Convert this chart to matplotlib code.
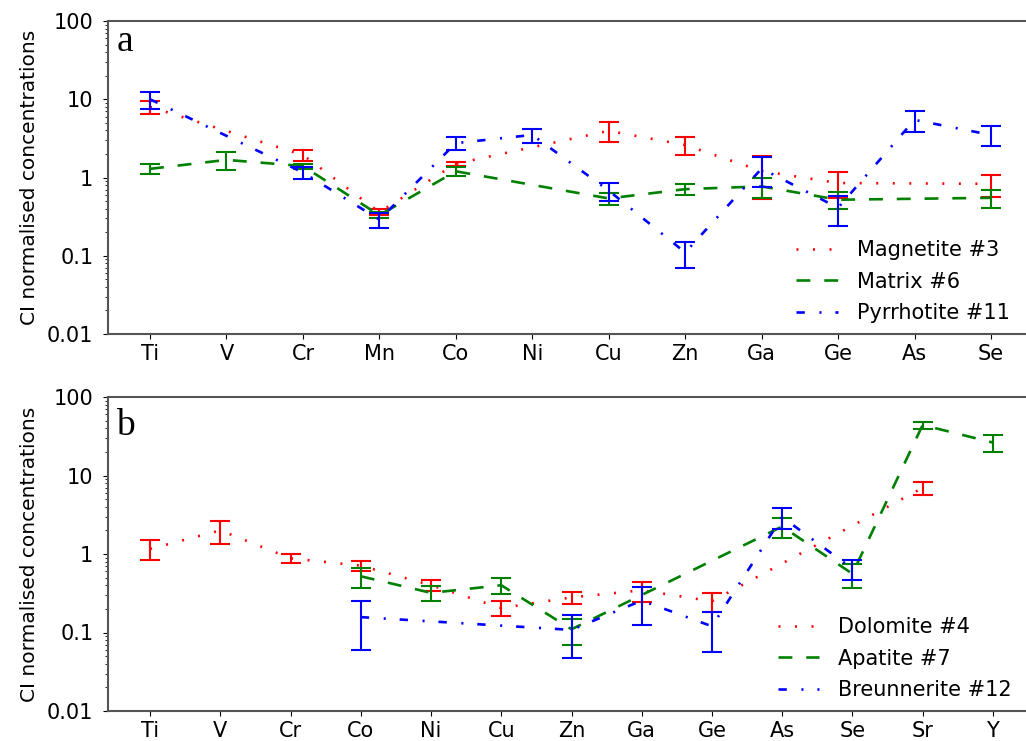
import matplotlib
matplotlib.use("Agg")
import matplotlib.pyplot as plt
from matplotlib.ticker import FuncFormatter, LogLocator

plt.rcParams["font.family"] = ["DejaVu Sans"]
plt.rcParams["lines.scale_dashes"] = False

# panel a
elements_a = ["Ti", "V", "Cr", "Mn", "Co", "Ni", "Cu", "Zn", "Ga", "Ge", "As", "Se"]

magnetite_el = ["Ti", "Cr", "Mn", "Co", "Cu", "Zn", "Ga", "Ge", "Se"]
magnetite_val = [8.0, 1.94, 0.36, 1.5, 3.95, 2.6, 1.21, 0.85, 0.83]
magnetite_err = [1.5, 0.31, 0.03, 0.1, 1.12, 0.65, 0.68, 0.31, 0.26]

matrix_el = ["Ti", "V", "Cr", "Mn", "Co", "Cu", "Zn", "Ga", "Ge", "Se"]
matrix_val = [1.29, 1.68, 1.4, 0.33, 1.2, 0.54, 0.71, 0.77, 0.52, 0.55]
matrix_err = [0.19, 0.44, 0.1, 0.03, 0.17, 0.1, 0.12, 0.23, 0.13, 0.14]

pyrrhotite_el = ["Ti", "Cr", "Mn", "Co", "Ni", "Cu", "Zn", "Ga", "Ge", "As", "Se"]
pyrrhotite_val = [10.0, 1.16, 0.29, 2.75, 3.5, 0.68, 0.11, 1.3, 0.41, 5.45, 3.5]
pyrrhotite_err = [2.5, 0.21, 0.065, 0.5, 0.7, 0.18, 0.04, 0.55, 0.17, 1.6, 1.0]

# panel b
elements_b = ["Ti", "V", "Cr", "Co", "Ni", "Cu", "Zn", "Ga", "Ge", "As", "Se", "Sr", "Y"]

dolomite_el = ["Ti", "V", "Cr", "Co", "Ni", "Cu", "Zn", "Ga", "Ge", "Sr"]
dolomite_val = [1.16, 2.0, 0.88, 0.71, 0.40, 0.205, 0.28, 0.345, 0.25, 6.95]
dolomite_err = [0.33, 0.65, 0.12, 0.11, 0.06, 0.045, 0.05, 0.1, 0.07, 1.25]

apatite_el = ["Co", "Ni", "Cu", "Zn", "As", "Se", "Sr", "Y"]
apatite_val = [0.52, 0.32, 0.40, 0.11, 2.24, 0.56, 44.0, 26.3]
apatite_err = [0.15, 0.07, 0.09, 0.04, 0.64, 0.19, 4.4, 6.3]

breunnerite_el = ["Co", "Zn", "Ga", "Ge", "As", "Se"]
breunnerite_val = [0.157, 0.108, 0.255, 0.12, 2.95, 0.65]
breunnerite_err = [0.097, 0.06, 0.13, 0.063, 0.87, 0.18]

styles = [
    ("red", (1.4, 10.5)),
    ("green", (10, 10)),
    ("blue", (6, 10.5, 1.5, 10)),
]


def draw_panel(ax, elements, series, letter, letter_y):
    for (name, el, val, err), (color, dashes) in zip(series, styles):
        x = [elements.index(e) for e in el]
        ax.errorbar(x, val, yerr=err, fmt="none", ecolor=color,
                    elinewidth=1.5, capsize=7, capthick=1.5)
        ax.plot(x, val, color=color, lw=1.9, dashes=dashes, label=name)
    ax.set_yscale("log")
    ax.set_ylim(0.01, 100)
    ax.yaxis.set_major_locator(LogLocator(base=10))
    ax.yaxis.set_major_formatter(FuncFormatter(lambda v, p: "{:g}".format(v)))
    ax.set_xticks(range(len(elements)))
    ax.set_xticklabels(elements)
    m = 0.05 * (len(elements) - 1)
    ax.set_xlim(-m, len(elements) - 1 + m)
    ax.tick_params(labelsize=15)
    ax.tick_params(axis="y", which="major", pad=7)
    ax.set_ylabel("CI normalised concentrations", fontsize=14.5, labelpad=6)
    for s in ax.spines.values():
        s.set_color("#555555")
        s.set_linewidth(1.5)
    ax.text(0.009, letter_y, letter, transform=ax.transAxes,
            fontsize=27, family="Liberation Serif", va="baseline")
    ax.legend(loc="lower right", frameon=False, fontsize=15,
              bbox_to_anchor=(0.995, -0.025), labelspacing=0.55,
              handletextpad=0.9)


fig = plt.figure(figsize=(10.26, 7.41), dpi=100)
ax1 = fig.add_axes([108 / 1026, 1 - 334 / 741, 925 / 1026, 313 / 741])
ax2 = fig.add_axes([108 / 1026, 1 - 711 / 741, 927 / 1026, 314 / 741])

draw_panel(ax1, elements_a, [
    ("Magnetite #3", magnetite_el, magnetite_val, magnetite_err),
    ("Matrix #6", matrix_el, matrix_val, matrix_err),
    ("Pyrrhotite #11", pyrrhotite_el, pyrrhotite_val, pyrrhotite_err),
], "a", 0.905)

draw_panel(ax2, elements_b, [
    ("Dolomite #4", dolomite_el, dolomite_val, dolomite_err),
    ("Apatite #7", apatite_el, apatite_val, apatite_err),
    ("Breunnerite #12", breunnerite_el, breunnerite_val, breunnerite_err),
], "b", 0.88)

fig.savefig("out.png", dpi=100)
